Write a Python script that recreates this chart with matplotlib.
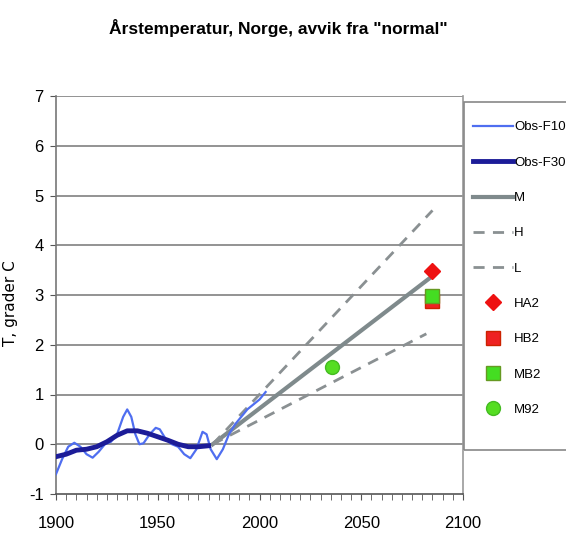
import matplotlib
matplotlib.use("Agg")
import matplotlib.pyplot as plt
from matplotlib.patches import Rectangle

plt.rcParams['font.family'] = ['Liberation Sans', 'DejaVu Sans']
plt.rcParams['axes.unicode_minus'] = False

title = 'Årstemperatur, Norge, avvik fra "normal"'
ylabel = "T, grader C"

# Observed, 10-year filter
f10_years = [1900, 1903, 1906, 1909, 1912, 1915, 1918, 1921, 1924, 1927, 1930, 1933,
             1935, 1937, 1939, 1941, 1943, 1946, 1949, 1951, 1954, 1957, 1960, 1963,
             1966, 1969, 1972, 1974, 1976, 1979, 1982, 1985, 1988, 1991, 1994, 1997,
             2000, 2003]
f10_vals = [-0.6, -0.3, -0.05, 0.03, -0.05, -0.2, -0.27, -0.15, 0.0, 0.05, 0.2, 0.55,
            0.7, 0.55, 0.2, 0.0, 0.02, 0.2, 0.33, 0.3, 0.1, 0.0, -0.05, -0.2,
            -0.28, -0.1, 0.25, 0.2, -0.1, -0.3, -0.1, 0.2, 0.4, 0.55, 0.7, 0.8,
            0.9, 1.05]

# Observed, 30-year filter
f30_years = [1900, 1905, 1910, 1915, 1920, 1925, 1930, 1935, 1940, 1945, 1950, 1955,
             1960, 1965, 1970, 1975]
f30_vals = [-0.25, -0.2, -0.12, -0.1, -0.05, 0.05, 0.18, 0.27, 0.27, 0.22, 0.15, 0.08,
            0.0, -0.05, -0.05, -0.03]

# Scenarios
m_years = [1977, 2084]
m_vals = [0.0, 3.35]
h_years = [1977, 2085]
h_vals = [0.0, 4.7]
l_years = [1977, 2082]
l_vals = [0.0, 2.22]

# Point projections
ha2 = (2085, 3.49)
hb2 = (2085, 2.88)
mb2 = (2085, 2.98)
m92 = (2035.5, 1.56)

xticks = [1900, 1950, 2000, 2050, 2100]
yticks = [-1, 0, 1, 2, 3, 4, 5, 6, 7]

fig = plt.figure(figsize=(5.66, 5.45), dpi=100)
ax = fig.add_axes([56/566, 51/545, 407/566, 398/545])

grid_c = "#8a8a8a"
for y in yticks[1:]:
    ax.axhline(y, color=grid_c, lw=1.3, zorder=1)

ax.plot(f10_years, f10_vals, color="#4f6ef0", lw=1.6, zorder=3, label="Obs-F10")
ax.plot(f30_years, f30_vals, color="#1c1c98", lw=3.5, zorder=4, label="Obs-F30")
ax.plot(m_years, m_vals, color="#7f8a8c", lw=3.0, zorder=2, label="M")
ax.plot(h_years, h_vals, color="#8a9092", lw=2.0, dashes=(4, 3), zorder=2, label="H")
ax.plot(l_years, l_vals, color="#8a9092", lw=2.0, dashes=(4, 3), zorder=2, label="L")

ax.plot([ha2[0]], [ha2[1]], marker="D", ms=8, color="#ee1111", mec="#ee1111", ls="none", zorder=6, label="HA2")
ax.plot([hb2[0]], [hb2[1]], marker="s", ms=10, color="#ee2222", mec="#cc2200", ls="none", zorder=5, label="HB2")
ax.plot([mb2[0]], [mb2[1]], marker="s", ms=10, color="#44dd22", mec="#669922", ls="none", zorder=6, label="MB2")
ax.plot([m92[0]], [m92[1]], marker="o", ms=10, color="#55dd22", mec="#44bb22", ls="none", zorder=6, label="M92")

ax.set_xlim(1900, 2100)
ax.set_ylim(-1, 7)
ax.set_xticks(xticks)
ax.set_xticks(range(1900, 2101, 5), minor=True)
ax.set_yticks(yticks)
ax.tick_params(axis="x", which="both", direction="out", length=4, color="#555555", labelsize=12, pad=12)
ax.tick_params(axis="y", direction="out", length=4, color="#555555", labelsize=12, pad=5)

ax.spines["top"].set_visible(False)
ax.spines["left"].set_color("#777777")
ax.spines["right"].set_color("#999999")
ax.spines["bottom"].set_color("#555555")
for s in ax.spines.values():
    s.set_linewidth(1.2)

ax.set_ylabel(ylabel, fontsize=11, family=['DejaVu Sans'])
ax.yaxis.set_label_coords((18 - 56) / 407, 0.48)
fig.text(278/566, 1 - 28/545, title, ha="center", va="center", fontsize=12.5, fontweight="bold")

# legend frame (drawn separately to match the reference box)
frame = Rectangle((464/566, 1 - 450/545), 110/566, 348/545, transform=fig.transFigure,
                  fill=False, edgecolor="#888888", lw=1.2)
fig.patches.append(frame)

leg = fig.legend(loc="upper left", bbox_to_anchor=(464/566, 1 - 112/545), fontsize=9.5,
                 frameon=False, handlelength=3.0,
                 handletextpad=0.1, labelspacing=1.75, borderpad=0.7, numpoints=1,
                 borderaxespad=0)

fig.savefig("out.png", dpi=100)
